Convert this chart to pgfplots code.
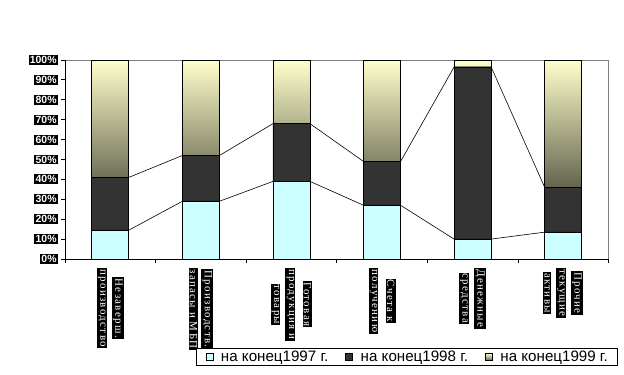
\documentclass[border=0pt]{standalone}
\usepackage{pgfplots}
\pgfplotsset{compat=1.18}
\usepackage{fontspec}
\setmainfont{Liberation Sans}
\newfontfamily\lblfont[LetterSpace=12]{Liberation Serif}
\definecolor{cyanbar}{RGB}{204,255,255}
\definecolor{darkbar}{RGB}{51,51,51}
\definecolor{yeltop}{RGB}{255,255,204}
\definecolor{olivebot}{RGB}{100,100,78}
\newcommand{\bx}[1]{{\setlength{\fboxsep}{1.2bp}\colorbox{black}{\textcolor{white}{#1}}}}
\begin{document}
\begin{tikzpicture}
\useasboundingbox (0,0) rectangle (624bp,375bp);
\begin{axis}[
  at={(65bp,116bp)}, anchor=south west,
  scale only axis, width=543.5bp, height=199bp,
  ybar stacked, bar width=37bp,
  xmin=-0.5, xmax=5.5, ymin=0, ymax=100,
  clip=false,
  axis line style={draw=gray, line width=0.8bp},
  tick align=outside, major tick length=4bp,
  tick style={black, line width=0.8bp},
  xtick pos=bottom, ytick pos=left,
  xtick={-0.5,0.5,1.5,2.5,3.5,4.5,5.5},
  xticklabels={},
  extra x ticks={0,1,2,3,4,5},
  extra x tick style={major tick length=0pt},
  extra x tick labels={
    {\bx{Незаверш.}\\\bx{производство}},
    {\bx{Производств.}\\\bx{запасы и МБП}},
    {\bx{Готовая}\\\bx{продукция и}\\\bx{товары}},
    {\bx{Счета к}\\\bx{получению}},
    {\bx{Денежные}\\\bx{средства}},
    {\bx{Прочие}\\\bx{текущие}\\\bx{активы}}},
  xticklabel style={rotate=-90, anchor=west, align=center, inner sep=0pt,
    font=\lblfont\fontsize{11}{15}\selectfont},
  xticklabel shift=9bp,
  ytick={0,10,20,30,40,50,60,70,80,90,100},
  yticklabels={\bx{0\%},\bx{10\%},\bx{20\%},\bx{30\%},\bx{40\%},\bx{50\%},\bx{60\%},\bx{70\%},\bx{80\%},\bx{90\%},\bx{100\%}},
  yticklabel style={inner sep=0.5bp, xshift=-2.5bp,
    font=\fontsize{10.5}{11}\selectfont\bfseries},
  legend style={at={(1.0162,-0.5377)}, anchor=south east, legend columns=3,
    draw=black, line width=0.8bp, fill=white, inner xsep=9bp, inner ysep=2.7bp,
    font=\fontsize{15.2}{17}\selectfont,
    nodes={inner sep=0pt},
    /tikz/every odd column/.append style={column sep=7.7bp},
    /tikz/every even column/.append style={column sep=17bp}},
  legend image code/.code={\draw[#1, draw=black, line width=0.6bp] (0bp,-3.5bp) rectangle (7bp,3.5bp);},
]
\addplot[fill=cyanbar, draw=black, line width=0.8bp] coordinates {(0,14.5) (1,29) (2,39) (3,27) (4,10) (5,13.5)};
\addplot[fill=darkbar, draw=black, line width=0.8bp] coordinates {(0,26.5) (1,23) (2,29) (3,22) (4,86.5) (5,22.5)};
\addplot[top color=yeltop, bottom color=olivebot, draw=black, line width=0.8bp] coordinates {(0,59) (1,48) (2,32) (3,51) (4,3.5) (5,64)};
\legend{на конец1997 г.,на конец1998 г.,на конец1999 г.}
\draw[black, line width=0.8bp] (rel axis cs:0,1) -- (rel axis cs:0,0) -- (rel axis cs:1,0);
\end{axis}
\begin{axis}[
  at={(65bp,116bp)}, anchor=south west,
  scale only axis, width=543.5bp, height=199bp,
  xmin=-0.5, xmax=5.5, ymin=0, ymax=100, hide axis]
\addplot[black, line width=0.6bp, mark=none] coordinates {(-0.2044,14.5) (0.2044,14.5) (0.7956,29) (1.2044,29) (1.7956,39) (2.2044,39) (2.7956,27) (3.2044,27) (3.7956,10) (4.2044,10) (4.7956,13.5) (5.2044,13.5)};
\addplot[black, line width=0.6bp, mark=none] coordinates {(-0.2044,41) (0.2044,41) (0.7956,52) (1.2044,52) (1.7956,68) (2.2044,68) (2.7956,49) (3.2044,49) (3.7956,96.5) (4.2044,96.5) (4.7956,36) (5.2044,36)};
\end{axis}
\end{tikzpicture}
\end{document}
